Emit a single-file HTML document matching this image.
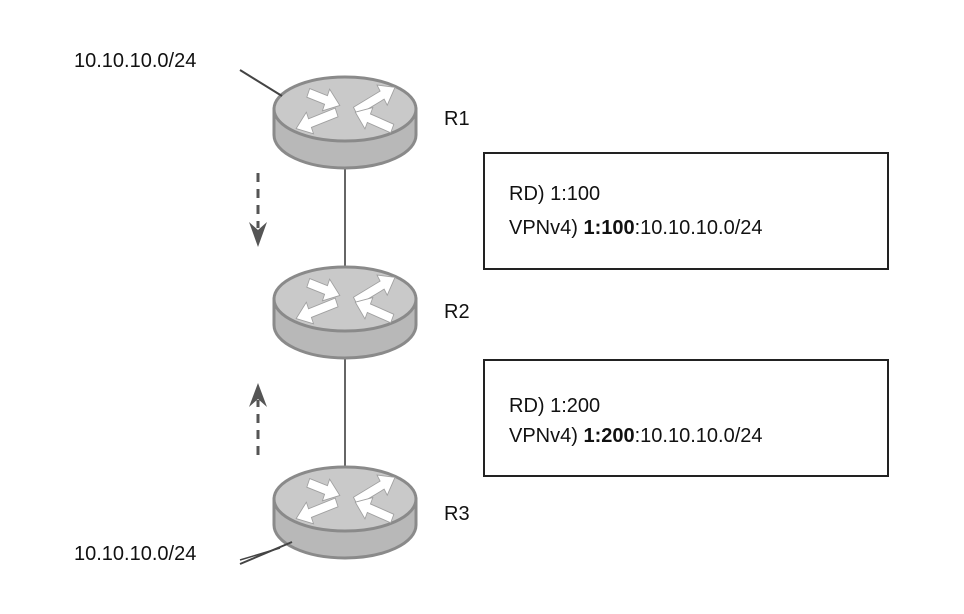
<!DOCTYPE html>
<html><head><style>
body{margin:0;background:#fff;}
svg{display:block;}
text{font-family:"Liberation Sans",Arial,sans-serif;fill:#111;}
</style></head><body>
<svg width="964" height="614" viewBox="0 0 964 614">
<defs>
<g id="r">
  <path d="M274,34 L274,60 A71,33 0 0 0 416,60 L416,34 Z" fill="#b8b8b8" stroke="#8a8a8a" stroke-width="3"/>
  <ellipse cx="345" cy="34" rx="71" ry="32" fill="#c9c9c9" stroke="#8a8a8a" stroke-width="3"/>
  <g fill="#fff" stroke="#a0a0a0" stroke-width="0.8" transform="translate(345,34) scale(1.05,1.15) translate(-345,-29)">
    <polygon transform="translate(310,15) rotate(20)" points="0,-4 18,-4 18,-10 32,0 18,10 18,4 0,4"/>
    <polygon transform="translate(355,31) rotate(-29)" points="0,-4 29,-4 29,-10 43,0 29,10 29,4 0,4"/>
    <polygon transform="translate(337,32) rotate(160)" points="0,-4 27,-4 27,-10 41,0 27,10 27,4 0,4"/>
    <polygon transform="translate(390,46) rotate(202)" points="0,-4 24,-4 24,-10 38,0 24,10 24,4 0,4"/>
  </g>
</g>
</defs>
<line x1="345" y1="168" x2="345" y2="266" stroke="#666" stroke-width="2"/>
<line x1="345" y1="358" x2="345" y2="466" stroke="#666" stroke-width="2"/>
<use href="#r" transform="translate(0,75)"/>
<use href="#r" transform="translate(0,265)"/>
<use href="#r" transform="translate(0,465)"/>
<line x1="240" y1="70" x2="282" y2="96" stroke="#444" stroke-width="2"/>
<line x1="240" y1="564" x2="292" y2="542" stroke="#444" stroke-width="2"/>
<line x1="240" y1="560" x2="280" y2="548" stroke="#444" stroke-width="1.5"/>
<text x="74" y="67" font-size="20">10.10.10.0/24</text>
<text x="74" y="560" font-size="20">10.10.10.0/24</text>
<text x="444" y="125" font-size="20">R1</text>
<text x="444" y="318" font-size="20">R2</text>
<text x="444" y="520" font-size="20">R3</text>
<line x1="258" y1="173" x2="258" y2="228" stroke="#555" stroke-width="3" stroke-dasharray="9,7"/>
<polygon points="249,222 258,247 267,222 258,230" fill="#555"/>
<line x1="258" y1="455" x2="258" y2="400" stroke="#555" stroke-width="3" stroke-dasharray="9,7"/>
<polygon points="249,407 258,383 267,407 258,399" fill="#555"/>
<rect x="484" y="153" width="404" height="116" fill="#fff" stroke="#222" stroke-width="2"/>
<text x="509" y="200" font-size="20">RD) 1:100</text>
<text x="509" y="234" font-size="20">VPNv4) <tspan font-weight="bold">1:100</tspan>:10.10.10.0/24</text>
<rect x="484" y="360" width="404" height="116" fill="#fff" stroke="#222" stroke-width="2"/>
<text x="509" y="412" font-size="20">RD) 1:200</text>
<text x="509" y="442" font-size="20">VPNv4) <tspan font-weight="bold">1:200</tspan>:10.10.10.0/24</text>
</svg>
</body></html>
